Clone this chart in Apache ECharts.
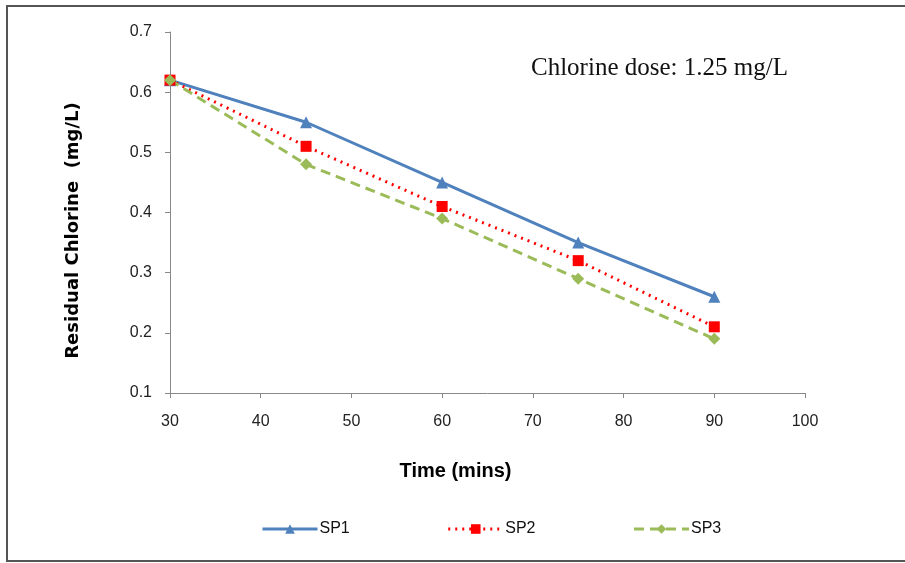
<!DOCTYPE html>
<html><head><meta charset="utf-8">
<script src="https://cdn.jsdelivr.net/npm/echarts@6/dist/echarts.min.js"></script>
<style>html,body{margin:0;padding:0;background:#fff}#c{width:905px;height:563px}</style>
</head><body><div id="c"></div>
<script>
const times = [30, 45, 60, 75, 90];
const sp1 = [0.62, 0.55, 0.45, 0.35, 0.26];
const sp2 = [0.62, 0.51, 0.41, 0.32, 0.21];
const sp3 = [0.62, 0.48, 0.39, 0.29, 0.19];
const seriesNames = ['SP1', 'SP2', 'SP3'];
const xTitle = 'Time (mins)';
const yTitle = 'Residual Chlorine  (mg/L)';
const note = 'Chlorine dose: 1.25 mg/L';

const pair = arr => times.map((t, i) => [t, arr[i]]);
const chart = echarts.init(document.getElementById('c'));
const font = '"Liberation Sans", Arial, sans-serif';
const lineStyles = [
  {width: 3, color: '#4F81BD', type: 'solid'},
  {width: 3, color: '#FF0000', type: [2, 5]},
  {width: 3, color: '#9BBB59', type: [10, 6]}
];
chart.setOption({
  animation: false,
  backgroundColor: '#fff',
  grid: {left: 170, right: 100, top: 32, bottom: 170},
  xAxis: {
    type: 'value', min: 30, max: 100, interval: 10,
    axisLine: {lineStyle: {color: '#888', width: 1}},
    axisTick: {show: true, length: 5, lineStyle: {color: '#888'}},
    splitLine: {show: false},
    axisLabel: {color: '#222', fontSize: 16, fontFamily: font, margin: 21},
    name: xTitle, nameLocation: 'middle', nameGap: 68,
    nameTextStyle: {fontSize: 20, fontWeight: 'bold', fontFamily: '"Liberation Sans Narrow", "Liberation Sans", Arial, sans-serif', color: '#000', padding: [0, 64, 0, 0]}
  },
  yAxis: {
    type: 'value', min: 0.1, max: 0.7, interval: 0.1,
    axisLine: {show: true, lineStyle: {color: '#888', width: 1}},
    axisTick: {show: true, length: 5, lineStyle: {color: '#888'}},
    splitLine: {show: false},
    axisLabel: {color: '#222', fontSize: 16, fontFamily: font, margin: 18,
      formatter: v => v.toFixed(1)},
    name: yTitle, nameLocation: 'middle', nameGap: 88, nameRotate: 90,
    nameTextStyle: {fontSize: 18, fontWeight: 'bold', fontFamily: '"DejaVu Sans", Verdana, sans-serif', color: '#000', padding: [0, 36, 0, 0]}
  },
  legend: {
    bottom: 21, left: 256, itemGap: 97, itemWidth: 55, itemHeight: 12,
    textStyle: {fontSize: 16, fontFamily: font, color: '#111', padding: [0,0,0,-3]},
    data: seriesNames.map((n, i) => ({name: n, lineStyle: lineStyles[i]}))
  },
  graphic: [
    {type: 'rect', shape: {x: 7, y: 6, width: 905, height: 555},
     style: {fill: 'none', stroke: '#555', lineWidth: 2}},
    {type: 'text', left: 531, top: 56,
     style: {text: note, font: '25px "Liberation Serif", "Times New Roman", serif', fill: '#111'}}
  ],
  series: [
    {name: seriesNames[0], type: 'line', data: pair(sp1), symbol: 'triangle', symbolSize: 12,
     color: '#4F81BD', lineStyle: lineStyles[0], itemStyle: {color: '#4F81BD'}},
    {name: seriesNames[1], type: 'line', data: pair(sp2), symbol: 'rect', symbolSize: 11,
     color: '#FF0000', lineStyle: lineStyles[1], itemStyle: {color: '#FF0000'}},
    {name: seriesNames[2], type: 'line', data: pair(sp3), symbol: 'diamond', symbolSize: 12,
     color: '#9BBB59', lineStyle: lineStyles[2], itemStyle: {color: '#9BBB59'}}
  ]
});
</script></body></html>
